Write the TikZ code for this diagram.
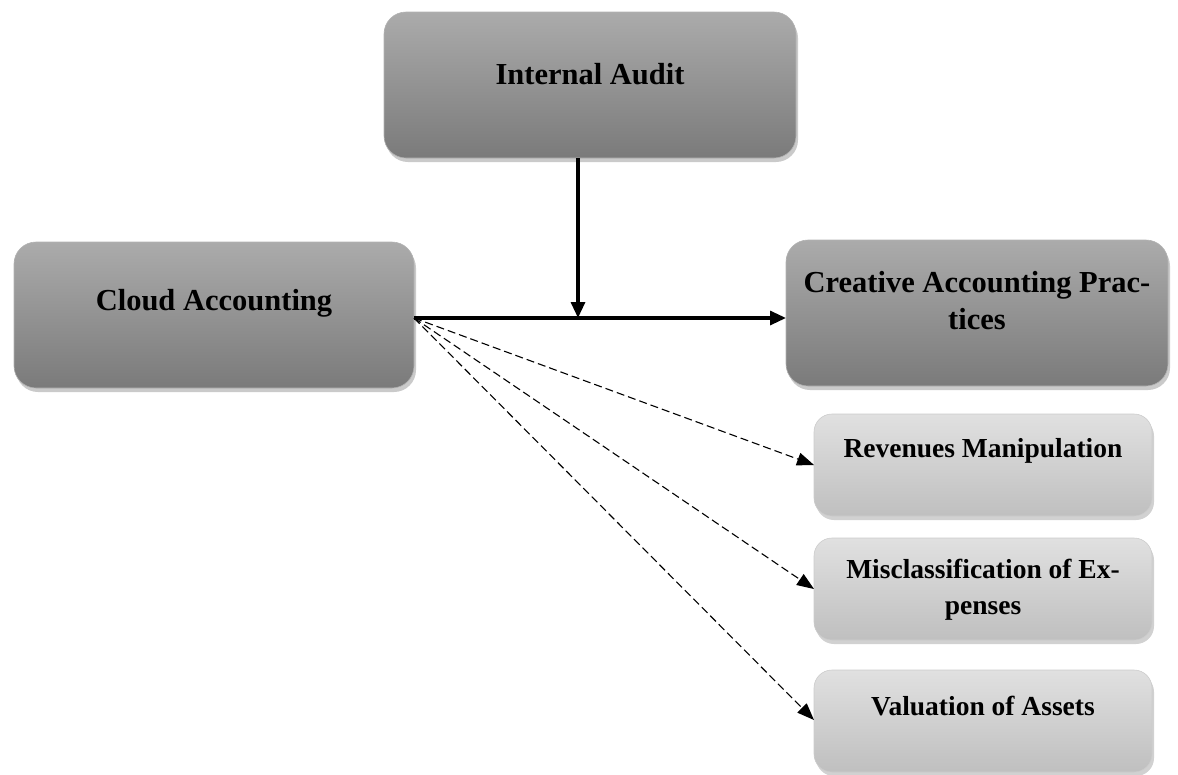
\documentclass[tikz,border=0pt]{standalone}
\usepackage{fontspec}
\setmainfont{Liberation Serif}
\usetikzlibrary{shadows,arrows.meta}
\begin{document}
\begin{tikzpicture}[x=1pt,y=-1pt,
  bigbox/.style={rounded corners=22pt, draw=gray!60, line width=0.6pt,
    top color=black!33, bottom color=black!52,
    drop shadow={shadow xshift=2pt, shadow yshift=-4pt, opacity=0.35, fill=black!60}},
  smallbox/.style={rounded corners=18pt, draw=gray!40, line width=0.6pt,
    top color=black!12, bottom color=black!25,
    drop shadow={shadow xshift=2pt, shadow yshift=-4pt, opacity=0.3, fill=black!60}},
  lbl/.style={font=\bfseries\fontsize{30.5}{37}\selectfont, align=center},
  slbl/.style={font=\bfseries\fontsize{27.5}{36}\selectfont, align=center},
  solidarrow/.style={line width=3.2pt, -{Triangle[length=16pt,width=14pt]}},
  dasharrow/.style={line width=1.1pt, dash pattern=on 8pt off 4pt, -{Triangle[length=17pt,width=13pt]}}
]
\useasboundingbox (0,0) rectangle (1178,774);
% boxes
\path[bigbox] (384,12) rectangle (796,158);
\node[lbl] (ia) at (590,74) {Internal Audit};
\path[bigbox] (14,242) rectangle (414,388);
\node[lbl] (ca) at (214,303) {Cloud Accounting};
\path[bigbox] (786,240) rectangle (1168,386);
\node[lbl] (cap) at (977,301) {Creative Accounting Prac-\\tices};
\path[smallbox] (814,414) rectangle (1152,516);
\node[slbl] (rm) at (983,451) {Revenues Manipulation};
\path[smallbox] (814,538) rectangle (1152,640);
\node[slbl] (me) at (983,590) {Misclassification of Ex-\\penses};
\path[smallbox] (814,670) rectangle (1152,772);
\node[slbl] (va) at (983,706) {Valuation of Assets};
% connector anchors
\coordinate (caR) at (414,318);
\coordinate (capL) at (786,318);
\coordinate (iaB) at (578,158);
\coordinate (mid) at (578,318);
\coordinate (rmL) at (814,465);
\coordinate (meL) at (814,589);
\coordinate (vaL) at (814,720);
\draw[solidarrow] (caR) -- (capL);
\draw[solidarrow] (iaB) -- (mid);
\draw[dasharrow] (caR) -- (rmL);
\draw[dasharrow] (caR) -- (meL);
\draw[dasharrow] (caR) -- (vaL);
\end{tikzpicture}
\end{document}
